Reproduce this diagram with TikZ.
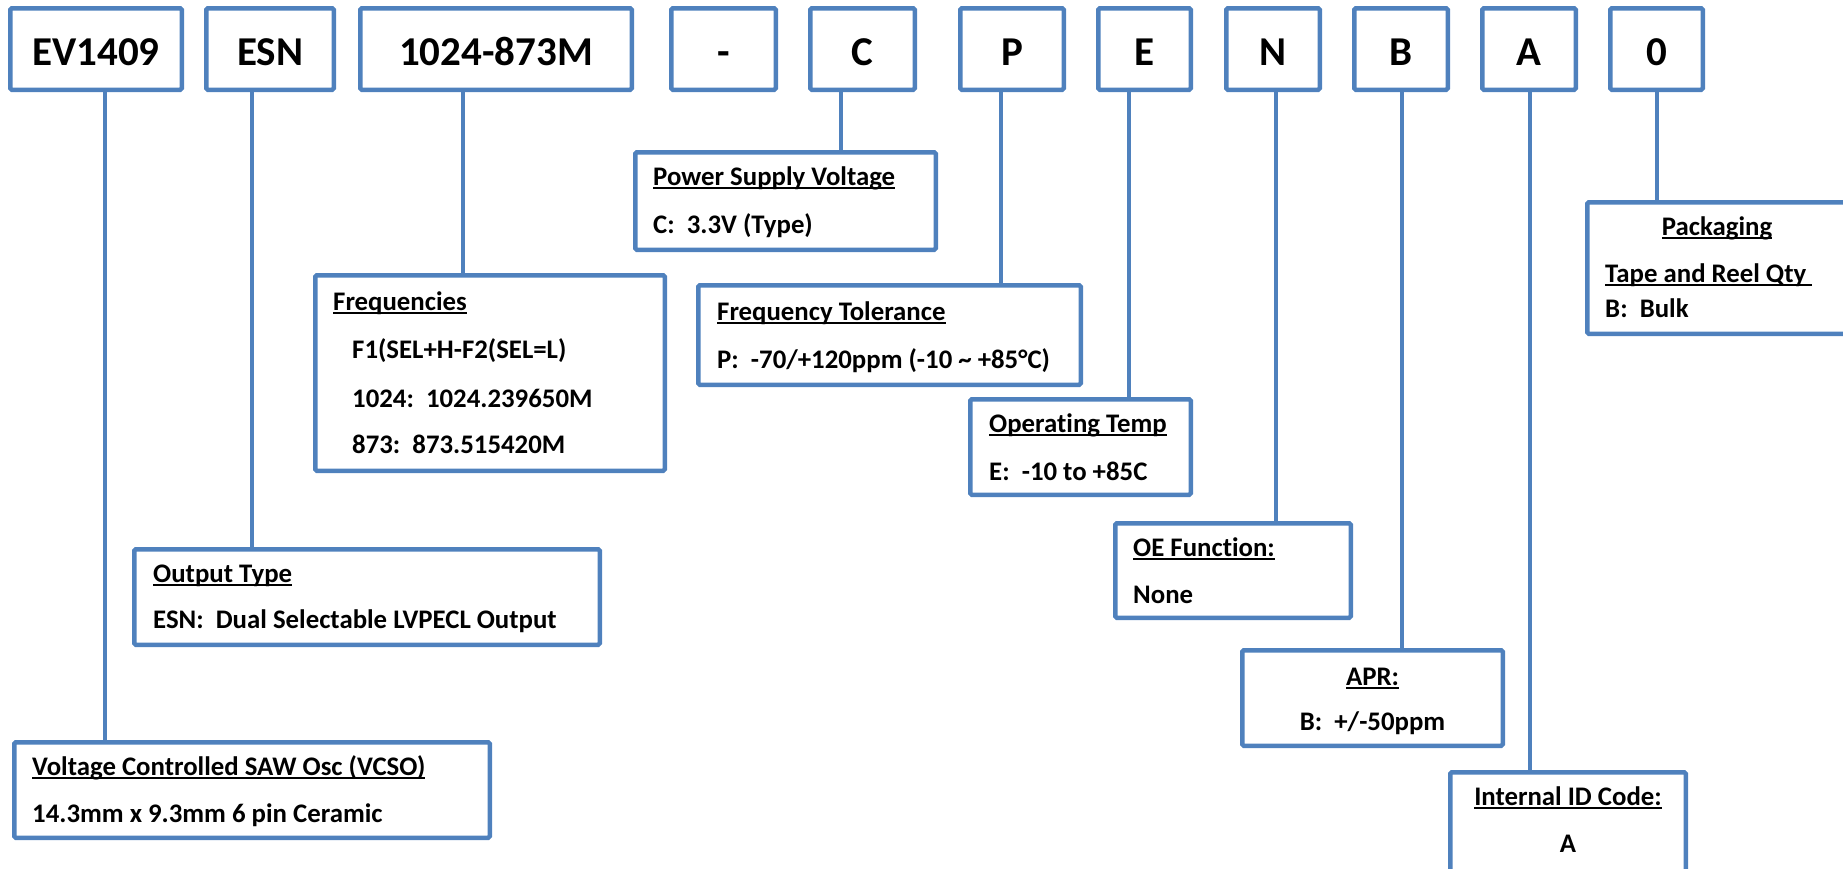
\documentclass[tikz,border=0pt]{standalone}
\usepackage{fontspec}
\setmainfont{Carlito}[Ligatures=NoCommon]
\definecolor{obox}{HTML}{4F81BD}
\newcommand\myul[1]{\setbox0=\hbox{#1}\rlap{\rule[-3.6pt]{\wd0}{1.7pt}}\box0}
\begin{document}
\begin{tikzpicture}[x=1pt,y=-1pt,
  box/.style={draw=obox, line width=4.5pt, rounded corners=1.5pt, inner sep=0pt},
  code/.style={font=\fontsize{41}{45}\selectfont\bfseries, inner sep=0pt, anchor=base},
  lbl/.style={font=\fontsize{26.8}{30}\selectfont\bfseries, inner sep=0pt, anchor=base west},
  lblc/.style={lbl, anchor=base},
  conn/.style={draw=obox, line width=4.5pt}]
\useasboundingbox (0,0) rectangle (1843,868);
\clip (0,0) rectangle (1843,868);

% top code boxes
\node[box, minimum width=171.5pt, minimum height=81.5pt] (EV) at (96,49) {};
\node[box, minimum width=127.5pt, minimum height=81.5pt] (ESN) at (270,49) {};
\node[box, minimum width=271.5pt, minimum height=81.5pt] (FRQ) at (496,49) {};
\node[box, minimum width=104.5pt, minimum height=81.5pt] (DSH) at (723.5,49) {};
\node[box, minimum width=104.5pt, minimum height=81.5pt] (C) at (862.5,49) {};
\node[box, minimum width=103.5pt, minimum height=81.5pt] (P) at (1012,49) {};
\node[box, minimum width=92.5pt, minimum height=81.5pt] (E) at (1144.5,49) {};
\node[box, minimum width=93.5pt, minimum height=81.5pt] (N) at (1273,49) {};
\node[box, minimum width=93.5pt, minimum height=81.5pt] (B) at (1401,49) {};
\node[box, minimum width=93.5pt, minimum height=81.5pt] (A) at (1529,49) {};
\node[box, minimum width=92.5pt, minimum height=81.5pt] (Z) at (1656.5,49) {};

\node[code] (tEV) at (96,65) {EV1409};
\node[code] (tESN) at (270,65) {ESN};
\node[code] (tFRQ) at (496,65) {1024-873M};
\node[code] (tDSH) at (723.5,65) {-};
\node[code] (tC) at (862.5,65) {C};
\node[code] (tP) at (1012,65) {P};
\node[code] (tE) at (1144.5,65) {E};
\node[code] (tN) at (1273,65) {N};
\node[code] (tB) at (1401,65) {B};
\node[code] (tA) at (1529,65) {A};
\node[code] (tZ) at (1656.5,65) {0};

% description boxes
\node[box, minimum width=300.5pt, minimum height=97.5pt] (PSV) at (785.5,201) {};
\node[box, minimum width=349.5pt, minimum height=195.5pt] (FRB) at (490,373) {};
\node[box, minimum width=382.5pt, minimum height=99.5pt] (TOL) at (889.5,335) {};
\node[box, minimum width=220.5pt, minimum height=95.5pt] (OPT) at (1080.5,447) {};
\node[box, minimum width=235.5pt, minimum height=94.5pt] (OEF) at (1233,570.5) {};
\node[box, minimum width=260.5pt, minimum height=95.5pt] (APR) at (1372.5,698) {};
\node[box, minimum width=235.5pt, minimum height=105.5pt] (IID) at (1568,825) {};
\node[box, minimum width=260.5pt, minimum height=131.5pt] (PKG) at (1717.5,268) {};
\node[box, minimum width=465.5pt, minimum height=95.5pt] (OUT) at (367,597) {};
\node[box, minimum width=475.5pt, minimum height=95.5pt] (VCS) at (252,790) {};

% connectors
\draw[conn] ([xshift=9pt]EV.south) -- ([xshift=9pt]EV.south |- VCS.north);
\draw[conn] ([xshift=-18pt]ESN.south) -- ([xshift=-18pt]ESN.south |- OUT.north);
\draw[conn] ([xshift=-33pt]FRQ.south) -- ([xshift=-33pt]FRQ.south |- FRB.north);
\draw[conn] ([xshift=-21.5pt]C.south) -- ([xshift=-21.5pt]C.south |- PSV.north);
\draw[conn] ([xshift=-11pt]P.south) -- ([xshift=-11pt]P.south |- TOL.north);
\draw[conn] ([xshift=-15.5pt]E.south) -- ([xshift=-15.5pt]E.south |- OPT.north);
\draw[conn] ([xshift=3pt]N.south) -- ([xshift=3pt]N.south |- OEF.north);
\draw[conn] ([xshift=1pt]B.south) -- ([xshift=1pt]B.south |- APR.north);
\draw[conn] ([xshift=1pt]A.south) -- ([xshift=1pt]A.south |- IID.north);
\draw[conn] ([xshift=0.5pt]Z.south) -- ([xshift=0.5pt]Z.south |- PKG.north);

% texts
\node[lbl] (psv1) at (653,185) {\myul{Power Supply Voltage}};
\node[lbl] (psv2) at (653,233) {C:\ \ 3.3V (Type)};

\node[lbl] (fr1) at (333,310) {\myul{Frequencies}};
\node[lbl] (fr2) at (352,358) {F1(SEL+H-F2(SEL=L)};
\node[lbl] (fr3) at (352,407) {1024:\ \ 1024.239650M};
\node[lbl] (fr4) at (352,453) {873:\ \ 873.515420M};

\node[lbl] (tol1) at (717,320) {\myul{Frequency Tolerance}};
\node[lbl] (tol2) at (717,368) {P:\ \ -70/+120ppm (-10 \textasciitilde{} +85°C)};

\node[lbl] (opt1) at (989,432) {\myul{Operating Temp}};
\node[lbl] (opt2) at (989,480) {E:\ \ -10 to +85C};

\node[lbl] (oe1) at (1133,556) {\myul{OE Function:}};
\node[lbl] (oe2) at (1133,603) {None};

\node[lblc] (apr1) at (1372.5,685) {\myul{APR:}};
\node[lblc] (apr2) at (1372.5,730) {B:\ \ +/-50ppm};

\node[lblc] (iid1) at (1568,805) {\myul{Internal ID Code:}};
\node[lblc] (iid2) at (1568,852) {A};

\node[lblc] (pk1) at (1717,235) {\myul{Packaging}};
\node[lbl] (pk2) at (1605,282) {\myul{Tape and Reel Qty\ }};
\node[lbl] (pk3) at (1605,317) {B:\ \ Bulk};

\node[lbl] (out1) at (153,582) {\myul{Output Type}};
\node[lbl] (out2) at (153,628) {ESN:\ \ Dual Selectable LVPECL Output};

\node[lbl] (vc1) at (32,775) {\myul{Voltage Controlled SAW Osc (VCSO)}};
\node[lbl] (vc2) at (32,822) {14.3mm x 9.3mm 6 pin Ceramic};
\end{tikzpicture}
\end{document}
